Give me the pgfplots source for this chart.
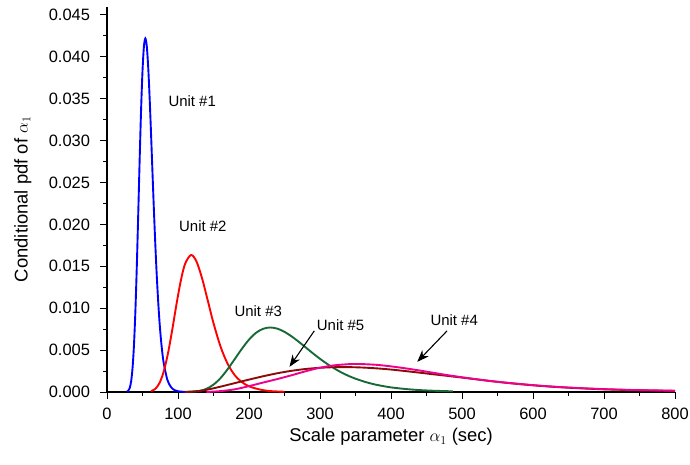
\documentclass[border=0pt]{standalone}
\usepackage{pgfplots}
\pgfplotsset{compat=1.18}
\usepackage{fontspec}
\setmainfont{Liberation Sans}
\usetikzlibrary{arrows.meta}
\definecolor{unitgreen}{RGB}{25,105,55}
\definecolor{unitbrown}{RGB}{140,10,10}
\begin{document}
\begin{tikzpicture}
\begin{axis}[
  at={(0,0)}, anchor=south west,
  scale only axis, width=568bp, height=385.4bp,
  xmin=0, xmax=800, ymin=0, ymax=0.046,
  clip=false,
  axis lines=left,
  axis line style={-, line width=1.1pt},
  tick align=outside,
  xtick={0,100,200,300,400,500,600,700,800},
  ytick={0,0.005,0.010,0.015,0.020,0.025,0.030,0.035,0.040,0.045},
  minor x tick num=1, minor y tick num=1,
  major tick length=6.5bp, minor tick length=3.5bp,
  every tick/.style={black, line width=1pt},
  scaled y ticks=false,
  /pgf/number format/assume math mode=true,
  yticklabel style={/pgf/number format/.cd, fixed, fixed zerofill, precision=3, /tikz/.cd, xshift=-7bp},
  xticklabel style={yshift=-6bp},
  ticklabel style={font=\fontsize{16.5}{19}\selectfont},
  xlabel={Scale parameter $\alpha_{1}$ (sec)},
  ylabel={Conditional pdf of $\alpha_{1}$},
  label style={font=\fontsize{18.5}{22}\selectfont},
  xlabel style={at={(axis description cs:0.5,-0.1168)}, anchor=center},
  ylabel style={at={(axis description cs:-0.148,0.5)}, anchor=center},
  every axis plot/.append style={line width=1.9pt, no marks, smooth},
]
% Unit #1
\addplot[blue] coordinates {
(28,0.00004) (30,0.00015) (32,0.00048) (34,0.00128) (36,0.00288) (38,0.00562)
(40,0.00969) (42,0.01505) (44,0.02127) (46,0.02774) (48,0.03365) (50,0.0383)
(52,0.04123) (54,0.0422) (56,0.0413) (58,0.03882) (60,0.0352) (62,0.0309)
(64,0.02634) (66,0.02187) (68,0.01772) (70,0.01405) (72,0.01093) (74,0.00834)
(76,0.00627) (78,0.00464) (80,0.00339) (85,0.00146) (90,0.00060) (95,0.00023)
(100,0.00009) (110,0.00001)
};
% Unit #2
\addplot[red] coordinates {
(62,0.00010) (68,0.00037) (74,0.00108) (80,0.00248) (86,0.00466) (92,0.00748)
(98,0.01054) (104,0.0133) (110,0.0153) (118.4,0.01635) (126,0.01559)
(134,0.01354) (142,0.0109) (150,0.00822) (160,0.00540) (170,0.00335)
(180,0.00200) (190,0.00118) (200,0.00068) (215,0.00030) (230,0.00011)
(250,0.00003)
};
% Unit #3
\addplot[unitgreen] coordinates {
(110,0.00001) (130,0.00013) (140,0.00038) (150,0.00088) (160,0.00167)
(170,0.00273) (180,0.00394) (190,0.00516) (200,0.00625) (210,0.00707)
(220,0.00755) (230,0.0077) (240,0.00756) (250,0.00718) (260,0.00664)
(270,0.00600) (280,0.00531) (290,0.00462) (300,0.00396) (310,0.00336)
(320,0.00282) (330,0.00234) (340,0.00193) (350,0.00159) (360,0.00130)
(370,0.00105) (380,0.00085) (390,0.00069) (400,0.00055) (420,0.00036)
(440,0.00023) (460,0.00015) (487,0.00008)
};
% Unit #5
\addplot[unitbrown] coordinates {
(110,0.00000) (120,0.00003) (130,0.00012) (140,0.00026) (150,0.00044)
(160,0.00064) (170,0.00085) (180,0.00106) (190,0.00127) (200,0.00148)
(220,0.00188) (240,0.00224) (260,0.00253) (280,0.00275) (300,0.00289)
(320,0.00296) (340,0.00297) (360,0.00292) (380,0.00282) (400,0.00268)
(420,0.00250) (440,0.00231) (460,0.00211) (480,0.00192) (500,0.00172)
(520,0.00152) (540,0.00131) (560,0.00112) (580,0.00095) (600,0.00080)
(620,0.00067) (640,0.00056) (660,0.00047) (680,0.00039) (700,0.00032)
(720,0.00027) (740,0.00022) (760,0.00019) (780,0.00016) (800,0.00013)
};
% Unit #4
\addplot[magenta] coordinates {
(140,0.00000) (150,0.00005) (160,0.00011) (170,0.00020) (180,0.00032)
(190,0.00050) (200,0.00070) (220,0.00113) (240,0.00155) (260,0.00200)
(280,0.00248) (300,0.00290) (320,0.00318) (340,0.00332) (350,0.00334)
(360,0.00333) (380,0.00324) (400,0.00306) (420,0.00283) (440,0.00257)
(460,0.00229) (480,0.00201) (500,0.00176) (520,0.00152) (540,0.00131)
(560,0.00113) (580,0.00097) (600,0.00082) (620,0.00069) (640,0.00058)
(660,0.00049) (680,0.00041) (700,0.00034) (720,0.00029) (740,0.00024)
(760,0.00021) (780,0.00018) (800,0.00015)
};
% curve labels and pointers
\node[font=\fontsize{15}{18}\selectfont] at (axis cs:120,0.0347) {Unit \#1};
\node[font=\fontsize{15}{18}\selectfont] at (axis cs:135,0.0198) {Unit \#2};
\node[font=\fontsize{15}{18}\selectfont] at (axis cs:213,0.0097) {Unit \#3};
\node[font=\fontsize{15}{18}\selectfont] at (axis cs:329,0.0080) {Unit \#5};
\node[font=\fontsize{15}{18}\selectfont] at (axis cs:489,0.0086) {Unit \#4};
\draw[line width=1.1pt, -{Stealth[length=12bp, width=9bp]}] (axis cs:292,0.0073) -- (axis cs:257,0.0030);
\draw[line width=1.1pt, -{Stealth[length=12bp, width=9bp]}] (axis cs:479,0.0073) -- (axis cs:437,0.0036);
\end{axis}
\pgfresetboundingbox
\path (-107bp,-73bp) rectangle (583bp,392bp);
\end{tikzpicture}
\end{document}
